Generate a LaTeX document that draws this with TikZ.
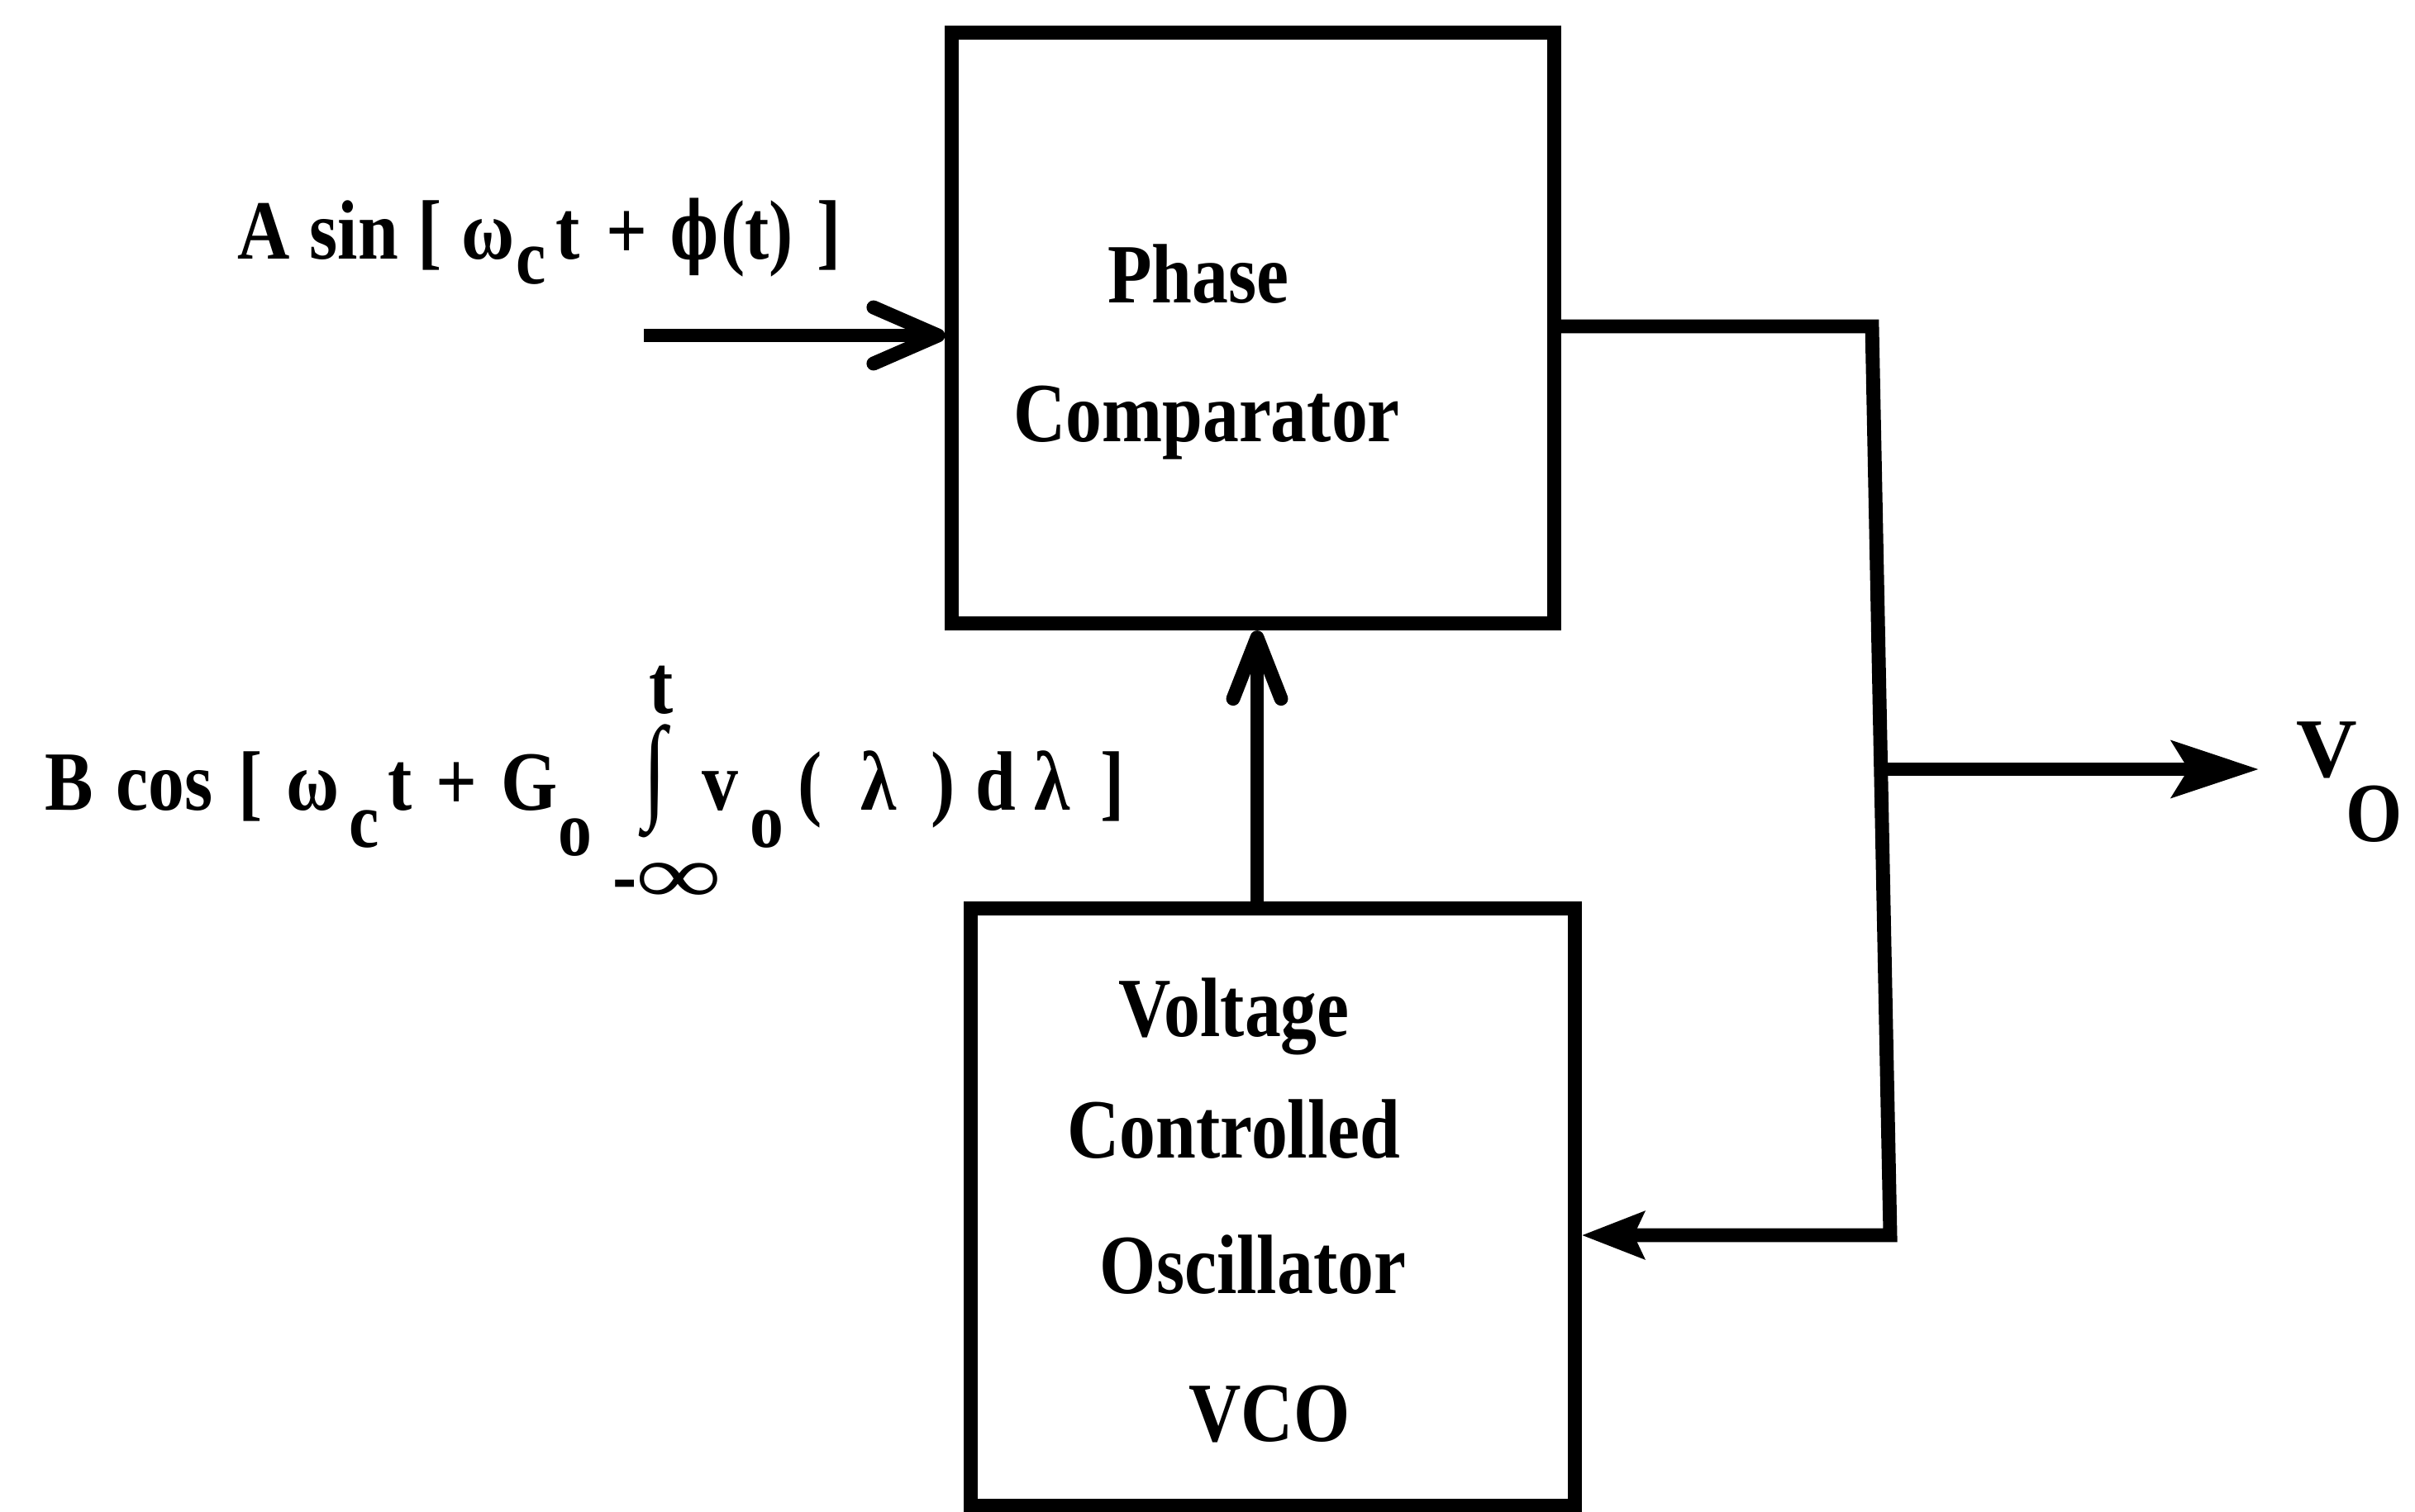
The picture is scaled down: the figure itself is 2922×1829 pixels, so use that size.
\documentclass[tikz,border=0pt]{standalone}
\usepackage{fontspec}
\usepackage{graphicx}
\setmainfont{Liberation Serif}
\newfontfamily\djv{DejaVu Serif}
\usetikzlibrary{arrows.meta}
\newcommand{\sq}[1]{\scalebox{0.86}[1]{#1}}
\newcommand{\sbx}[2]{\raisebox{-#1}{\fontsize{27}{27}\selectfont #2}}
\newcommand{\pcs}[2]{\makebox[#1][l]{\sq{#2}}}
\begin{document}
\begin{tikzpicture}[x=0.01cm,y=-0.01cm,
  wire/.style={line width=4.8pt, line join=miter},
  blk/.style={draw, line width=4.8pt, rectangle, inner sep=0pt},
  lbl/.style={inner sep=0pt, anchor=base, font=\fontsize{29}{31}\selectfont\bfseries},
  barb/.style={-{Straight Barb[length=0.78cm,width=0.68cm,round]}},
  barbv/.style={-{Straight Barb[length=0.74cm,width=0.58cm,round]}},
  headout/.style={-{Stealth[length=1.05cm,width=0.68cm,inset=0.2cm]}},
  headfb/.style={-{Stealth[length=0.75cm,width=0.56cm,inset=0.12cm]}}]
\useasboundingbox (0,0) rectangle (2922,1829);
% blocks
\node[blk, minimum width=7.28cm, minimum height=7.15cm] (pc) at (1516,397) {};
\node[blk, minimum width=7.30cm, minimum height=7.22cm] (vco) at (1540,1461) {};
% block texts
\node[lbl] (t1) at (1450,366) {\sq{Phase}};
\node[lbl] (t2) at (1460,534) {\sq{Comparator}};
\node[lbl] (t3) at (1493,1254) {\sq{Voltage}};
\node[lbl] (t4) at (1493,1401) {\sq{Controlled}};
\node[lbl] (t5) at (1516,1565) {\sq{Oscillator}};
\node[lbl] (t6) at (1536,1744) {\sq{VCO}};
% input
\coordinate (inA) at (779,406);
\draw[wire, barb] (inA) -- (inA -| pc.west);
\node[lbl, anchor=base west] (ain) at (287,313) {\pcs{0.87cm}{A}\pcs{1.31cm}{sin}\pcs{0.53cm}{[}\pcs{0.66cm}{ω}\pcs{0.48cm}{\sbx{0.3cm}{c}}\pcs{0.61cm}{t}\pcs{0.77cm}{+}\makebox[0.61cm][l]{\scalebox{0.6}[0.95]{\djv\bfseries ϕ}}\pcs{1.16cm}{(t)}\sq{]}};
% VCO to PC
\coordinate (vx) at (1521,0);
\draw[wire, barbv] (vco.north -| vx) -- (pc.south -| vx);
\node[lbl, anchor=base west] (bin) at (54,980) {\pcs{0.86cm}{B}\pcs{1.48cm}{cos}\pcs{0.58cm}{[}\pcs{0.76cm}{ω}\pcs{0.47cm}{\sbx{0.45cm}{c}}\pcs{0.58cm}{t}\pcs{0.78cm}{+}\pcs{0.69cm}{G}\pcs{1.03cm}{\sbx{0.55cm}{o}}\makebox[0.71cm][l]{\smash{\raisebox{0.04cm}{\scalebox{1}[1.37]{∫}}}}\pcs{0.58cm}{v}\pcs{0.58cm}{\sbx{0.45cm}{o}}\pcs{0.76cm}{(}\pcs{0.85cm}{λ}\pcs{0.54cm}{)}\pcs{0.71cm}{d}\pcs{0.80cm}{λ}\sq{]}};
\node[lbl] (up) at (800,863) {\sq{t}};
\node[lbl, anchor=base west] (lo) at (741,1093) {\sq{-}\scalebox{1.4}[1]{∞}};
% feedback loop
\coordinate (c1) at (2265,395);
\coordinate (c2) at (2287,1495);
\draw[wire, headfb] (pc.east |- c1) -- (c1) -- (c2) -- (c2 -| vco.east);
% output branch
\coordinate (br) at (2276,931);
\coordinate (votip) at (2733,931);
\draw[wire, headout] (br) -- (votip);
\node[lbl, anchor=base west] (vo) at (2778,940) {V\kern-0.14cm\raisebox{-0.78cm}{\sq{O}}};
\end{tikzpicture}
\end{document}
